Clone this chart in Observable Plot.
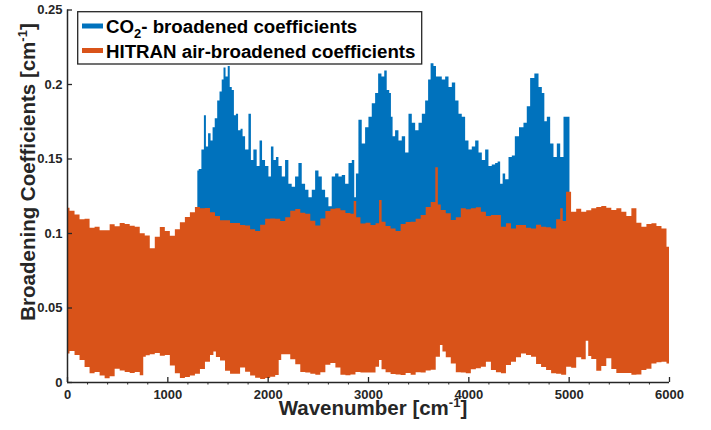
<!DOCTYPE html>
<html>
<head>
<meta charset="utf-8">
<script src="https://cdn.jsdelivr.net/npm/d3@7"></script>
<script src="https://cdn.jsdelivr.net/npm/@observablehq/plot@0.6"></script>
<style>
  html, body { margin: 0; padding: 0; background: #fff; }
  #chart svg { display: block; }
</style>
</head>
<body>
<div id="chart"></div>
<script>
// CO2-broadened coefficients: upper envelope of the line list, wavenumber [cm-1] / coefficient [cm-1]
const co2Wn = [1299,1326,1353,1376,1393,1419,1443,1459,1486,1508,1532,1552,1568,1592,1612,1632,1652,1675,1692,1718,1742,1758,1792,1825,1841,1874,1907,1931,1957,1991,2024,2041,2074,2091,2124,2157,2190,2223,2256,2290,2323,2356,2390,2423,2456,2490,2523,2556,2589,2622,2655,2689,2722,2755,2789,2822,2855,2871,2888,2921,2954,2988,3021,3054,3088,3114,3154,3170,3203,3220,3237,3253,3287,3320,3353,3387,3420,3453,3487,3520,3553,3586,3612,3636,3669,3686,3719,3752,3786,3819,3852,3886,3918,3951,3985,4018,4051,4085,4118,4151,4184,4217,4250,4284,4300,4334,4350,4384,4417,4450,4477,4533,4566,4599,4633,4683,4716,4749,4766,4799,4832,4865,4899,4932,4965,4998,5008];
const co2Coef = [0.142,0.143,0.156,0.179,0.158,0.167,0.162,0.171,0.177,0.189,0.195,0.203,0.211,0.205,0.212,0.198,0.196,0.179,0.180,0.169,0.170,0.165,0.156,0.180,0.149,0.156,0.145,0.162,0.149,0.145,0.138,0.158,0.149,0.151,0.145,0.138,0.149,0.133,0.131,0.138,0.147,0.133,0.129,0.124,0.129,0.142,0.138,0.129,0.124,0.118,0.138,0.140,0.138,0.139,0.133,0.147,0.149,0.124,0.140,0.176,0.160,0.171,0.178,0.187,0.194,0.207,0.205,0.209,0.196,0.194,0.178,0.165,0.169,0.162,0.165,0.154,0.180,0.174,0.169,0.174,0.180,0.189,0.203,0.214,0.212,0.205,0.205,0.203,0.205,0.198,0.201,0.189,0.180,0.178,0.162,0.156,0.158,0.162,0.154,0.149,0.156,0.145,0.146,0.147,0.148,0.133,0.140,0.136,0.151,0.152,0.165,0.171,0.174,0.185,0.204,0.207,0.198,0.194,0.175,0.178,0.160,0.151,0.160,0.151,0.178,0.178,0.178];

// HITRAN air-broadened coefficients: upper envelope
const airTopWn = [0,50,100,150,200,250,300,350,400,450,500,550,600,650,700,750,800,850,900,950,1000,1050,1100,1150,1200,1250,1300,1350,1400,1450,1500,1550,1600,1650,1700,1750,1800,1850,1900,1950,2000,2050,2100,2150,2200,2250,2300,2350,2400,2450,2500,2550,2600,2650,2700,2750,2800,2850,2865,2900,2950,3000,3050,3100,3121,3150,3200,3250,3300,3350,3400,3450,3500,3550,3600,3650,3692,3700,3750,3800,3850,3900,3950,4000,4050,4100,4150,4200,4250,4300,4350,4400,4450,4500,4550,4600,4650,4700,4750,4800,4850,4900,4932,4950,4998,5050,5100,5150,5200,5250,5300,5350,5400,5450,5500,5550,5600,5650,5700,5750,5800,5850,5900,5950,6000];
const airTop = [0.1170,0.1150,0.1125,0.1092,0.1096,0.1036,0.1042,0.1018,0.1018,0.1058,0.1045,0.1067,0.1060,0.1049,0.1042,0.0998,0.0984,0.0897,0.0975,0.1040,0.1013,0.0982,0.1025,0.1072,0.1107,0.1139,0.1174,0.1166,0.1168,0.1139,0.1114,0.1085,0.1085,0.1067,0.1067,0.1054,0.1051,0.1025,0.1013,0.1056,0.1096,0.1098,0.1096,0.1081,0.1105,0.1150,0.1161,0.1136,0.1130,0.1083,0.1051,0.1098,0.1148,0.1163,0.1166,0.1152,0.1134,0.1130,0.1215,0.1105,0.1063,0.1069,0.1054,0.1065,0.1221,0.1076,0.1047,0.1031,0.1013,0.1060,0.1074,0.1076,0.1096,0.1121,0.1174,0.1208,0.1441,0.1192,0.1154,0.1132,0.1087,0.1105,0.1166,0.1159,0.1166,0.1172,0.1143,0.1114,0.1121,0.1121,0.1042,0.1065,0.1031,0.1054,0.1054,0.1036,0.1031,0.1056,0.1042,0.1038,0.1031,0.1092,0.1166,0.1081,0.1277,0.1143,0.1163,0.1143,0.1152,0.1166,0.1174,0.1181,0.1170,0.1154,0.1166,0.1143,0.1114,0.1166,0.1069,0.1042,0.1060,0.1065,0.1047,0.1031,0.0908];

// HITRAN air-broadened coefficients: lower envelope
const airLowWn = [0,50,100,150,200,250,300,350,400,450,500,550,600,650,700,750,770,800,850,900,950,1000,1050,1100,1150,1200,1250,1300,1350,1400,1450,1468,1500,1550,1600,1650,1700,1750,1800,1850,1900,1950,2000,2050,2100,2120,2150,2200,2250,2300,2350,2400,2450,2500,2550,2600,2650,2700,2750,2800,2850,2900,2950,3000,3050,3100,3120,3150,3200,3250,3300,3350,3400,3450,3500,3550,3600,3650,3700,3734,3750,3800,3850,3900,3950,4000,4050,4100,4150,4200,4250,4300,4350,4400,4450,4500,4550,4600,4650,4700,4750,4800,4850,4900,4950,5000,5050,5100,5150,5190,5200,5250,5300,5350,5400,5450,5500,5550,5600,5650,5700,5750,5800,5850,5900,5950,6000];
const airLow = [0.0192,0.0208,0.0181,0.0148,0.0101,0.0058,0.0067,0.0043,0.0025,0.0038,0.0089,0.0078,0.0067,0.0060,0.0067,0.0045,0.0170,0.0179,0.0186,0.0195,0.0177,0.0181,0.0110,0.0058,0.0027,0.0034,0.0043,0.0056,0.0087,0.0136,0.0181,0.0204,0.0168,0.0145,0.0076,0.0056,0.0056,0.0098,0.0069,0.0043,0.0029,0.0020,0.0027,0.0036,0.0047,0.0148,0.0186,0.0186,0.0152,0.0119,0.0067,0.0063,0.0056,0.0049,0.0065,0.0116,0.0128,0.0098,0.0049,0.0045,0.0051,0.0067,0.0063,0.0063,0.0063,0.0103,0.0148,0.0085,0.0065,0.0054,0.0051,0.0047,0.0060,0.0049,0.0065,0.0063,0.0078,0.0083,0.0170,0.0248,0.0204,0.0166,0.0125,0.0065,0.0063,0.0058,0.0085,0.0092,0.0103,0.0136,0.0081,0.0065,0.0058,0.0114,0.0136,0.0166,0.0192,0.0181,0.0170,0.0121,0.0101,0.0081,0.0058,0.0056,0.0049,0.0103,0.0096,0.0166,0.0152,0.0277,0.0174,0.0154,0.0076,0.0107,0.0159,0.0087,0.0060,0.0060,0.0060,0.0049,0.0051,0.0081,0.0089,0.0125,0.0132,0.0136,0.0125];

// Axis ticks and labels
const xTicks = [0, 1000, 2000, 3000, 4000, 5000, 6000];
const xMinorTicks = [200,400,600,800,1200,1400,1600,1800,2200,2400,2600,2800,3200,3400,3600,3800,4200,4400,4600,4800,5200,5400,5600,5800];
const yTicks = [0, 0.05, 0.1, 0.15, 0.2, 0.25];
const yTickLabels = ["0", "0.05", "0.1", "0.15", "0.2", "0.25"];
const seriesNames = ["broadened coefficients", "HITRAN air-broadened coefficients"];

const BLUE = "#0072BD";
const ORANGE = "#D95319";
const INK = "#262626";
const FONT = "'Liberation Sans', Arial, Helvetica, sans-serif";

const rows = (xs, vs) => xs.map((wn, i) => ({wn, v: vs[i]}));
const co2 = rows(co2Wn, co2Coef);
const airUpper = rows(airTopWn, airTop);
const airLower = rows(airLowWn, airLow);

const svg = Plot.plot({
  width: 711,
  height: 430,
  marginLeft: 67,
  marginRight: 42,
  marginTop: 9.5,
  marginBottom: 48,
  style: {fontFamily: FONT, fontWeight: "bold", fontSize: "13px", color: INK, background: "white"},
  x: {domain: [0, 6000]},
  y: {domain: [0, 0.25]},
  marks: [
    Plot.areaY(co2, {x: "wn", y: "v", fill: BLUE, curve: "step"}),
    Plot.areaY(airUpper, {x: "wn", y: "v", fill: ORANGE, curve: "step"}),
    Plot.areaY(airLower, {x: "wn", y: "v", fill: "white", curve: "step"}),
    Plot.ruleX([0], {stroke: INK, strokeWidth: 1.5}),
    Plot.ruleY([0], {stroke: INK, strokeWidth: 1.5}),
    Plot.ruleX(xTicks, {x: d => d, y1: 0, y2: 0, insetTop: -5, stroke: INK, strokeWidth: 1.3}),
    Plot.ruleX(xMinorTicks, {x: d => d, y1: 0, y2: 0, insetBottom: -2.5, stroke: INK, strokeWidth: 1}),
    Plot.ruleY(yTicks, {y: d => d, x1: 0, x2: 0, insetRight: -5, stroke: INK, strokeWidth: 1.3}),
    Plot.axisX({ticks: xTicks, tickSize: 0, tickPadding: 7, tickFormat: d => String(d), label: null, fontSize: 13, fill: INK}),
    Plot.axisY({ticks: yTicks, tickSize: 0, tickPadding: 5, tickFormat: d => yTickLabels[yTicks.indexOf(d)], label: null, fontSize: 13, fill: INK})
  ]
});

const root = d3.select(svg);

// Axis titles with superscript units
const xTitle = root.append("text")
  .attr("x", 373).attr("y", 415)
  .attr("text-anchor", "middle")
  .attr("font-family", FONT).attr("font-weight", "bold").attr("font-size", 20.5)
  .attr("fill", INK);
xTitle.append("tspan").text("Wavenumber [cm");
xTitle.append("tspan").attr("dy", -8).attr("font-size", 13).text("-1");
xTitle.append("tspan").attr("dy", 8).text("]");

const yTitle = root.append("text")
  .attr("transform", "translate(35,172) rotate(-90)")
  .attr("text-anchor", "middle")
  .attr("font-family", FONT).attr("font-weight", "bold").attr("font-size", 20.5)
  .attr("fill", INK);
yTitle.append("tspan").text("Broadening Coefficients [cm");
yTitle.append("tspan").attr("dy", -8).attr("font-size", 13).text("-1");
yTitle.append("tspan").attr("dy", 8).text("]");

// Legend
const legend = root.append("g")
  .attr("font-family", FONT).attr("font-weight", "bold").attr("font-size", 18.7)
  .attr("fill", "black").attr("text-anchor", "start");
legend.append("rect")
  .attr("x", 77.7).attr("y", 11.7).attr("width", 344).attr("height", 52.3)
  .attr("fill", "white").attr("stroke", INK).attr("stroke-width", 1.3);
legend.append("line").attr("x1", 82).attr("x2", 103).attr("y1", 26).attr("y2", 26)
  .attr("stroke", BLUE).attr("stroke-width", 5);
legend.append("line").attr("x1", 82).attr("x2", 103).attr("y1", 50.5).attr("y2", 50.5)
  .attr("stroke", ORANGE).attr("stroke-width", 5);
const l1 = legend.append("text").attr("x", 106).attr("y", 33.3).attr("text-anchor", "start");
l1.append("tspan").text("CO");
l1.append("tspan").attr("dy", 5).attr("font-size", 13).text("2");
l1.append("tspan").attr("dy", -5).text("- " + seriesNames[0]);
legend.append("text").attr("x", 106).attr("y", 58).attr("text-anchor", "start").text(seriesNames[1]);

document.getElementById("chart").appendChild(svg);
</script>
</body>
</html>
